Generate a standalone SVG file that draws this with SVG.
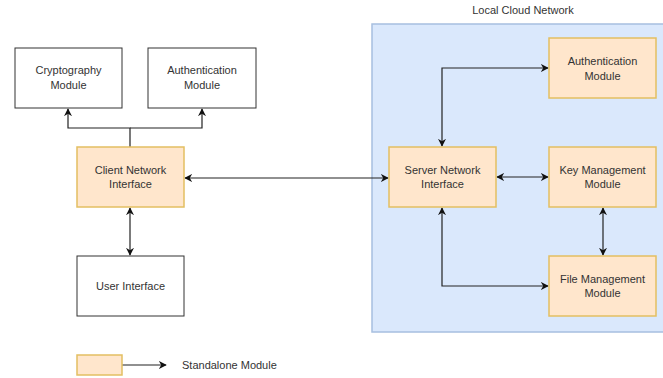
<svg xmlns="http://www.w3.org/2000/svg" width="663" height="378" viewBox="0 0 663 378">
<style>
text{font-family:"Liberation Sans",Arial,sans-serif;font-size:11px;fill:#333;text-anchor:middle}
.plain{fill:#fff;stroke:#333;stroke-width:1}
.mod{fill:#ffe6cc;stroke:#e3bf62;stroke-width:1.5}
.cloud{fill:#dae8fc;stroke:#a7bfe0;stroke-width:1.5}
.c{fill:none;stroke:#222;stroke-width:1.2}
</style>
<defs>
<marker id="a" viewBox="0 0 10 10" refX="9" refY="5" markerWidth="8" markerHeight="8" orient="auto-start-reverse" markerUnits="userSpaceOnUse">
<path d="M0,0 L10,5 L0,10 L3,5 Z" fill="#111"/>
</marker>
</defs>
<rect width="663" height="378" fill="#fff"/>
<g id="cloud">
<rect class="cloud" x="372" y="24" width="300" height="308"/>
<text x="523" y="14">Local Cloud Network</text>
</g>
<g id="connectors">
<path class="c" d="M130,147 V128 H68 V109" marker-end="url(#a)"/>
<path class="c" d="M130,128 H202 V109" marker-end="url(#a)"/>
<path class="c" d="M185,178 H388" marker-start="url(#a)" marker-end="url(#a)"/>
<path class="c" d="M130,208 V255" marker-start="url(#a)" marker-end="url(#a)"/>
<path class="c" d="M442,146 V68 H548" marker-start="url(#a)" marker-end="url(#a)"/>
<path class="c" d="M497,177 H548" marker-start="url(#a)" marker-end="url(#a)"/>
<path class="c" d="M603,208 V255" marker-start="url(#a)" marker-end="url(#a)"/>
<path class="c" d="M442,208 V286 H548" marker-start="url(#a)" marker-end="url(#a)"/>
<path class="c" d="M122,365 H166" marker-end="url(#a)"/>
</g>
<g id="crypto">
<rect class="plain" x="15" y="48" width="107" height="60"/>
<text x="68.5" y="74">Cryptography</text><text x="68.5" y="89">Module</text>
</g>
<g id="auth-client">
<rect class="plain" x="148" y="48" width="108" height="60"/>
<text x="202" y="74">Authentication</text><text x="202" y="89">Module</text>
</g>
<g id="client">
<rect class="mod" x="77" y="147" width="107" height="60"/>
<text x="130.5" y="174">Client Network</text><text x="130.5" y="188">Interface</text>
</g>
<g id="user">
<rect class="plain" x="77" y="256" width="107" height="60"/>
<text x="130.5" y="290">User Interface</text>
</g>
<g id="server">
<rect class="mod" x="389" y="147" width="107" height="60"/>
<text x="442.5" y="174">Server Network</text><text x="442.5" y="188">Interface</text>
</g>
<g id="auth-server">
<rect class="mod" x="549" y="38" width="107" height="60"/>
<text x="602.5" y="65">Authentication</text><text x="602.5" y="80">Module</text>
</g>
<g id="key">
<rect class="mod" x="549" y="147" width="107" height="60"/>
<text x="602.5" y="174">Key Management</text><text x="602.5" y="188">Module</text>
</g>
<g id="file">
<rect class="mod" x="549" y="256" width="107" height="60"/>
<text x="602.5" y="283">File Management</text><text x="602.5" y="297">Module</text>
</g>
<g id="legend">
<rect class="mod" x="77" y="355" width="45" height="20"/>
<text x="182" y="369" style="text-anchor:start">Standalone Module</text>
</g>
</svg>
